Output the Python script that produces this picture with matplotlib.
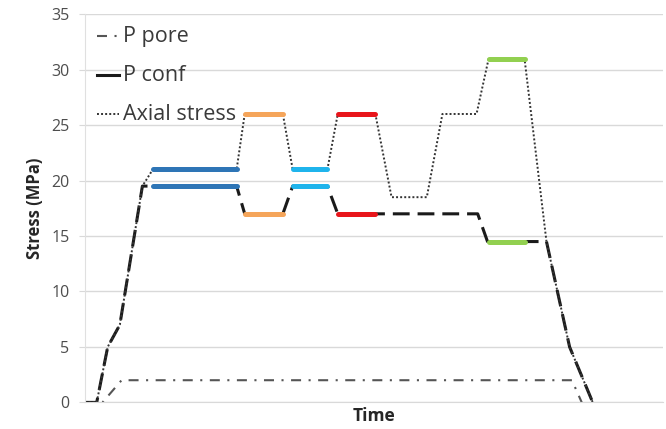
import matplotlib
matplotlib.use("Agg")
import matplotlib.pyplot as plt

plt.rcParams['font.family'] = ['Open Sans', 'DejaVu Sans']

# time in arbitrary units (no scale on the chart)
t_axial = [0, 2.1, 4.0, 6.1, 10.0, 11.8, 26.3, 27.7, 34.3, 36.0, 42.0, 43.8, 50.3,
           53.1, 59.2, 61.9, 67.8, 69.9, 76.1, 79.9, 83.9, 87.9]
s_axial = [0, 0, 5, 7, 19.5, 21, 21, 26, 26, 21, 21, 26, 26,
           18.5, 18.5, 26, 26, 31, 31, 14.5, 5, 0]

t_conf = [0, 2.1, 4.0, 6.1, 10.0, 26.3, 27.7, 34.3, 36.0, 42.0, 43.8, 50.3,
          68.0, 69.7, 79.9, 83.9, 87.9]
s_conf = [0, 0, 5, 7, 19.5, 19.5, 17, 17, 19.5, 19.5, 17, 17,
          17, 14.5, 14.5, 5, 0]

t_pore = [0, 3.1, 6.4, 84.3, 86.0]
s_pore = [0, 0, 2, 2, 0]

# coloured stages: (t_start, t_end, axial, confining, colour)
stages = [
    (11.8, 26.3, 21, 19.5, '#2E75B6'),
    (27.7, 34.3, 26, 17, '#F5A55A'),
    (36.0, 42.0, 21, 19.5, '#1FB4EC'),
    (43.8, 50.3, 26, 17, '#E8151B'),
    (69.9, 76.1, 31, 14.5, '#92D050'),
]

fig = plt.figure(figsize=(6.66, 4.29), dpi=100)
ax = fig.add_axes([0.127, 0.062, 0.868, 0.905])

ax.plot(t_pore, s_pore, color='#555555', lw=1.5, dashes=(4.8, 3.6, 1, 3.6))
ax.plot(t_conf, s_conf, color='#1a1a1a', lw=2.2, dashes=(5.5, 2.6))
ax.plot(t_axial, s_axial, color='#333333', lw=1.4, dashes=(1, 1.1))

for t0, t1, sa, sc, c in stages:
    ax.plot([t0, t1], [sa, sa], color=c, lw=3.6, solid_capstyle='round')
    ax.plot([t0, t1], [sc, sc], color=c, lw=3.6, solid_capstyle='round')

ax.set_xlim(0, 100)
ax.set_ylim(0, 35)
ax.set_yticks(range(0, 36, 5))
ax.set_xticks([])
ax.grid(axis='y', color='#D9D9D9', lw=1)
ax.set_axisbelow(True)
for s in ['top', 'right']:
    ax.spines[s].set_visible(False)
ax.spines['bottom'].set_color('#D9D9D9')
ax.spines['left'].set_color('#E0E0E0')
ax.tick_params(axis='y', length=4, color='#D9D9D9', labelsize=11.5,
               labelcolor='#4D4D4D', pad=7)
ax.set_ylabel('Stress (MPa)', fontsize=12, fontweight='bold', color='#262626', labelpad=5)
ax.set_xlabel('Time', fontsize=12.5, fontweight='bold', color='#262626', labelpad=3)

# legend drawn by hand (Excel style, uneven spacing)
leg = [
    (0.943, 'P pore', dict(color='#555555', lw=1.5, dashes=(4.8, 3.6, 1, 3.6))),
    (0.843, 'P conf', dict(color='#1a1a1a', lw=2.2)),
    (0.742, 'Axial stress', dict(color='#333333', lw=1.4, dashes=(1, 1.1))),
]
for y, lab, kw in leg:
    ax.plot([0.021, 0.059], [y, y], transform=ax.transAxes, clip_on=False, **kw)
    ax.text(0.066, y, lab, transform=ax.transAxes, fontsize=15.5, color='#3A3A3A',
            va='center', ha='left')

fig.savefig('out.png', dpi=100)
